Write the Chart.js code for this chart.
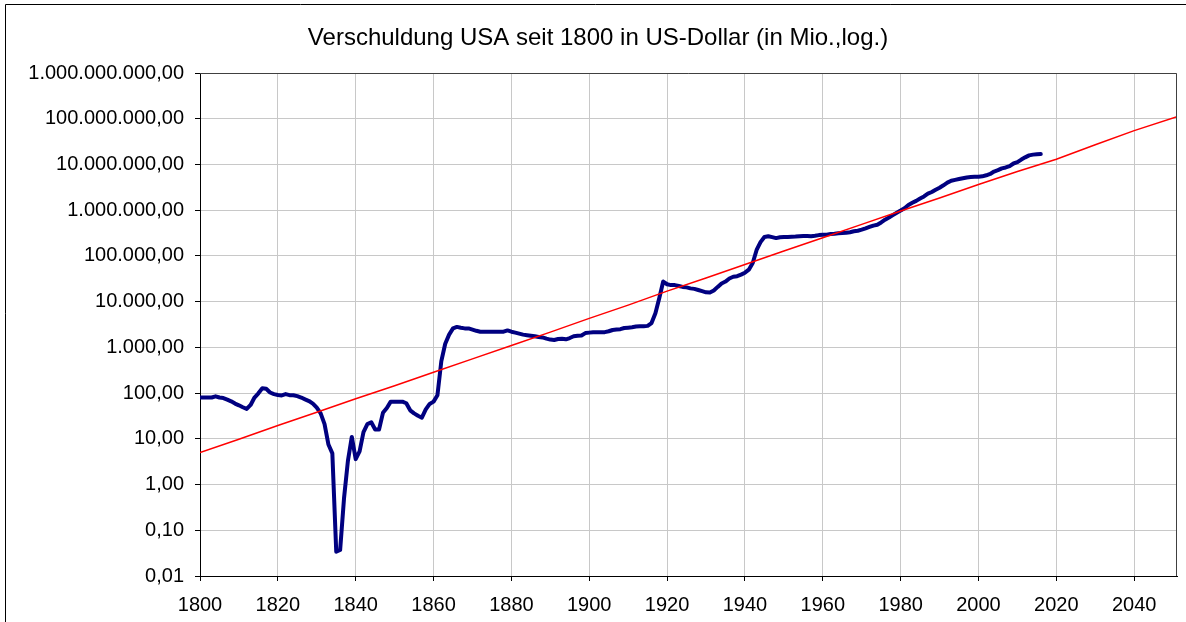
<!DOCTYPE html>
<html><head><meta charset="utf-8">
<script src="https://cdn.jsdelivr.net/npm/chart.js@4.4.1/dist/chart.umd.min.js"></script>
<style>html,body{margin:0;padding:0;background:#fff;overflow:hidden}#wrap{width:1186px;height:622px;position:relative}</style>
</head><body><div id="wrap"><canvas id="c" width="1186" height="622"></canvas></div>
<script>
const chartTitle = 'Verschuldung USA seit 1800 in US-Dollar (in Mio.,log.)';

const debtYears = [
1800,1801,1802,1803,1804,1805,1806,1807,1808,1809,
1810,1811,1812,1813,1814,1815,1816,1817,1818,1819,
1820,1821,1822,1823,1824,1825,1826,1827,1828,1829,
1830,1831,1832,1833,1834,1835,1836,1837,1838,1839,
1840,1841,1842,1843,1844,1845,1846,1847,1848,1849,
1850,1851,1852,1853,1854,1855,1856,1857,1858,1859,
1860,1861,1862,1863,1864,1865,1866,1867,1868,1869,
1870,1871,1872,1873,1874,1875,1876,1877,1878,1879,
1880,1881,1882,1883,1884,1885,1886,1887,1888,1889,
1890,1891,1892,1893,1894,1895,1896,1897,1898,1899,
1900,1901,1902,1903,1904,1905,1906,1907,1908,1909,
1910,1911,1912,1913,1914,1915,1916,1917,1918,1919,
1920,1921,1922,1923,1924,1925,1926,1927,1928,1929,
1930,1931,1932,1933,1934,1935,1936,1937,1938,1939,
1940,1941,1942,1943,1944,1945,1946,1947,1948,1949,
1950,1951,1952,1953,1954,1955,1956,1957,1958,1959,
1960,1961,1962,1963,1964,1965,1966,1967,1968,1969,
1970,1971,1972,1973,1974,1975,1976,1977,1978,1979,
1980,1981,1982,1983,1984,1985,1986,1987,1988,1989,
1990,1991,1992,1993,1994,1995,1996,1997,1998,1999,
2000,2001,2002,2003,2004,2005,2006,2007,2008,2009,
2010,2011,2012,2013,2014,2015,2016];

const debtValues = [
80,80,80,80,85,80,78,72,66,59,
54,49,45,55,80,99,127,124,103,95,
91,89,95,90,90,86,80,73,67,59,
48,36,21,7.5,4.8,0.034,0.037,0.5,3.3,11,
3.6,5.3,14,21,23,16,16,37,47,65,
65,65,65,60,42,36,32,29,44,58,
65,90,500,1200,1900,2600,2800,2680,2600,2600,
2450,2300,2200,2200,2200,2200,2200,2200,2200,2350,
2200,2100,2000,1900,1850,1800,1750,1680,1650,1550,
1480,1450,1520,1550,1500,1600,1750,1800,1820,2050,
2100,2150,2150,2150,2150,2250,2400,2450,2500,2650,
2700,2750,2850,2900,2900,2950,3400,5600,12000,27500,
24000,23000,23000,22000,21000,20500,19500,19000,18000,17000,
16000,15800,17500,21000,25000,27500,32000,35000,36000,39000,
43000,50000,70000,135000,200000,260000,270000,258000,245000,255000,
260000,260000,262000,265000,270000,272000,272000,270000,276000,285000,
290000,292000,300000,305000,312000,317000,320000,330000,345000,355000,
375000,400000,430000,460000,480000,540000,620000,690000,780000,880000,
980000,1100000,1300000,1450000,1600000,1800000,2000000,2300000,2500000,2800000,
3100000,3500000,4000000,4400000,4600000,4800000,5000000,5200000,5300000,5400000,
5400000,5500000,5800000,6200000,7000000,7500000,8200000,8600000,9200000,10500000,
11200000,12800000,14300000,15800000,16400000,16700000,16900000];

const trendYears = [1800,1810,1820,1830,1840,1850,1860,1870,1880,1890,1900,1910,1920,1930,1940,1950,1960,1970,1980,1990,2000,2010,2020,2030,2040,2051];
const trendValues = [5,9.8,19.5,38,75,145,285,560,1100,2150,4300,8400,17000,33000,65000,128000,250000,490000,960000,1850000,3650000,7000000,13000000,27000000,55000000,110000000];

const xTickValues = [1800,1820,1840,1860,1880,1900,1920,1940,1960,1980,2000,2020,2040];
const yTickValues = [0.01,0.1,1,10,100,1000,1e4,1e5,1e6,1e7,1e8,1e9];
const yTickLabels = ['0,01','0,10','1,00','10,00','100,00','1.000,00','10.000,00','100.000,00','1.000.000,00','10.000.000,00','100.000.000,00','1.000.000.000,00'];

const FONT = '"Liberation Sans", Arial, sans-serif';

const framePlugin = {
  id: 'frame',
  afterDraw(chart) {
    const ctx = chart.ctx, a = chart.chartArea;
    ctx.save();
    ctx.lineWidth = 1;
    ctx.strokeStyle = '#404040';
    ctx.beginPath();
    ctx.moveTo(a.left, Math.round(a.top) + 0.5);
    ctx.lineTo(Math.round(a.right) - 0.5, Math.round(a.top) + 0.5);
    ctx.lineTo(Math.round(a.right) - 0.5, Math.round(a.bottom));
    ctx.stroke();
    ctx.strokeStyle = '#000';
    ctx.beginPath();
    ctx.moveTo(5.5, 622);
    ctx.lineTo(5.5, 4.5);
    ctx.lineTo(1186, 4.5);
    ctx.stroke();
    ctx.fillStyle = '#000';
    ctx.font = '24px ' + FONT;
    ctx.textAlign = 'center';
    ctx.textBaseline = 'alphabetic';
    ctx.fillText(chartTitle, 598, 45);
    ctx.restore();
  }
};

new Chart(document.getElementById('c'), {
  type: 'line',
  data: {
    datasets: [
      {
        label: 'Trend',
        data: trendYears.map((y, i) => ({x: y, y: trendValues[i]})),
        borderColor: '#ff0000',
        borderWidth: 1.5,
        pointRadius: 0,
        tension: 0,
        fill: false
      },
      {
        label: 'Verschuldung',
        data: debtYears.map((y, i) => ({x: y, y: debtValues[i]})),
        borderColor: '#000080',
        borderWidth: 4,
        borderJoinStyle: 'round',
        borderCapStyle: 'round',
        pointRadius: 0,
        tension: 0,
        fill: false
      }
    ]
  },
  options: {
    responsive: false,
    animation: false,
    events: [],
    layout: {padding: {left: 0, right: 9, top: 73, bottom: 0}},
    plugins: {legend: {display: false}, tooltip: {enabled: false}, title: {display: false}},
    scales: {
      x: {
        type: 'linear',
        min: 1800,
        max: 2051,
        afterBuildTicks: s => { s.ticks = xTickValues.map(v => ({value: v})); },
        afterFit: s => { s.height = 46; },
        grid: {color: '#c8c8c8', lineWidth: 1, tickColor: '#000', tickLength: 5, drawTicks: true},
        border: {display: true, color: '#000', width: 1},
        ticks: {
          color: '#000', font: {family: FONT, size: 20}, padding: 12,
          maxRotation: 0, autoSkip: false,
          callback: (v) => String(v)
        }
      },
      y: {
        type: 'logarithmic',
        min: 0.01,
        max: 1e9,
        afterBuildTicks: s => { s.ticks = yTickValues.map(v => ({value: v})); },
        afterFit: s => { s.width = 200; },
        grid: {color: '#c8c8c8', lineWidth: 1, tickColor: '#000', tickLength: 5, drawTicks: true},
        border: {display: true, color: '#000', width: 1},
        ticks: {
          color: '#000', font: {family: FONT, size: 20}, padding: 11,
          autoSkip: false,
          callback: (v, i) => yTickLabels[i]
        }
      }
    }
  },
  plugins: [framePlugin]
});
</script>
</body></html>
